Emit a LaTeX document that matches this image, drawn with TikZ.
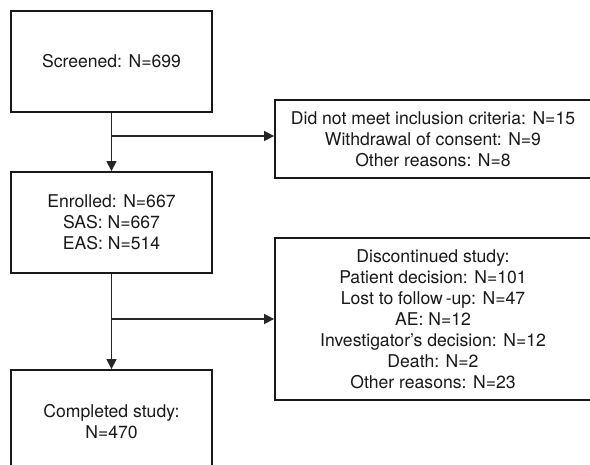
\documentclass[tikz,border=0pt]{standalone}
\usepackage{fontspec}
\setmainfont{TeX Gyre Heros}
\usetikzlibrary{arrows.meta,calc}
\begin{document}
\begin{tikzpicture}[x=1pt,y=-1pt,
  box/.style={draw=black!90,line width=1.8pt,rectangle,align=center,inner sep=0pt,
    font=\fontsize{17.6}{21}\selectfont,text=black!90},
  conn/.style={draw=black!85,line width=1.3pt,-{Triangle[length=10pt,width=10pt]}},
  link/.style={draw=black!85,line width=1.3pt}]
\useasboundingbox (0,0) rectangle (590,465);
\clip (0,0) rectangle (590,465);
\fill[white] (0,0) rectangle (590,465);
\node[box,minimum width=201pt,minimum height=101pt] (scr) at (111.5,61.5) {Screened: N=699};
\node[box,minimum width=201pt,minimum height=101pt] (enr) at (111.5,222.5) {Enrolled: N=667\\SAS: N=667\\EAS: N=514};
\node[box,minimum width=201pt,minimum height=104pt] (cmp) at (111.5,422) {Completed study:\\N=470};
\node[box,minimum width=316pt,minimum height=78pt] (exc) at (433,139) {Did not meet inclusion criteria: N=15\\Withdrawal of consent: N=9\\Other reasons: N=8};
\node[box,minimum width=316pt,minimum height=162pt] (dis) at (433,319) {Discontinued study:\\Patient decision: N=101\\Lost to follow\,-up: N=47\\AE: N=12\\Investigator’s decision: N=12\\Death: N=2\\Other reasons: N=23};
\draw[conn] (scr.south) -- (enr.north);
\draw[conn] (enr.south) -- (cmp.north);
\coordinate (b1) at (111.5,136);
\coordinate (b2) at (111.5,319);
\draw[conn] (b1) -- (b1 -| exc.west);
\draw[conn] (b2) -- (b2 -| dis.west);
\end{tikzpicture}
\end{document}
